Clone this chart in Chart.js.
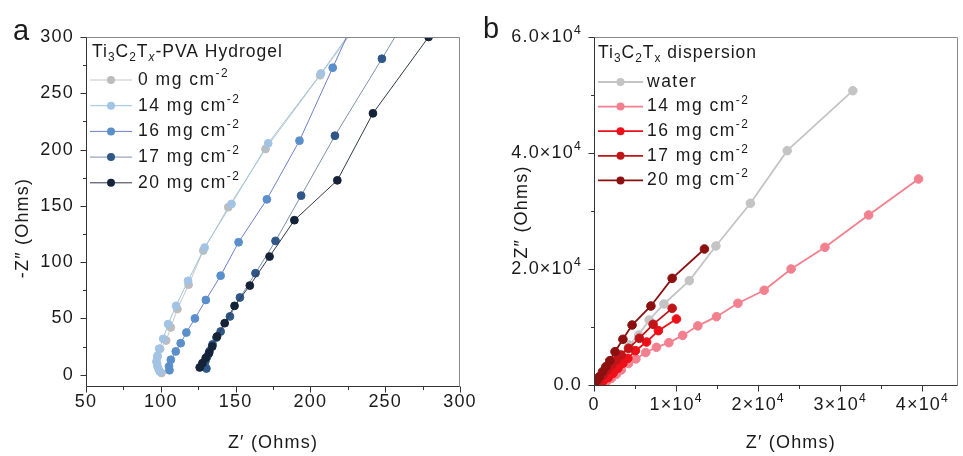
<!DOCTYPE html>
<html>
<head>
<meta charset="utf-8">
<script src="https://cdn.jsdelivr.net/npm/chart.js@4.4.1/dist/chart.umd.min.js"></script>
<style>
  html, body { margin: 0; padding: 0; background: #fff; }
  #wrap { position: relative; width: 963px; height: 456px; overflow: hidden; }
  .box { position: absolute; top: 0; height: 456px; }
  #boxA { left: 0; width: 480px; }
  #boxB { left: 480px; width: 483px; }
</style>
</head>
<body>
<div id="wrap">
  <div class="box" id="boxA"><canvas id="chartA"></canvas></div>
  <div class="box" id="boxB"><canvas id="chartB"></canvas></div>
</div>
<script>
// ── panel a : Ti3C2Tx-PVA hydrogel (Z', -Z'') ─────────────
const gelLabels = ['0 mg cm^{-2}', '14 mg cm^{-2}', '16 mg cm^{-2}', '17 mg cm^{-2}', '20 mg cm^{-2}'];
const gel0  = [[100.5,1.5],[98.5,5],[97.5,10],[97.8,16],[99.5,23],[103.6,30.4],[106.7,42],[111.1,58.3],[118.6,80],[128.4,110.3],[145.1,148.8],[170,200.5],[206.5,266],[231,310]];
const gel14 = [[99.3,2.9],[97.8,7.4],[97.1,11.8],[97.8,16.9],[98.9,23.1],[101.6,31.9],[104.9,45],[110.2,61.2],[118.2,83.4],[129.3,113],[147.3,151.7],[171.8,205.6],[207.1,267.6],[226,303]];
const gel16 = [[105.8,4],[105.5,7.4],[106.7,13.3],[110,20.7],[113.3,28],[117.1,37.5],[122.8,50],[130.1,66.4],[140,88],[152,117.7],[170.9,155.8],[192.7,207.9],[214.9,272.7],[229,314]];
const gel17 = [[130.5,5.5],[129.2,8.5],[129.8,12],[131,16],[132.6,21],[134.6,27],[137.2,33],[140,38.4],[146.2,51.8],[152.9,68.6],[163.3,90.2],[176.7,118.9],[193.8,159.1],[216.4,212.3],[247.8,280.7],[262,312]];
const gel20 = [[126,6.5],[127.8,10.3],[130,14.8],[132.2,19.2],[134.4,25.1],[137.6,34],[142.7,45.8],[149.3,61.2],[159.5,79.2],[172.7,105],[189.3,137.3],[218,172.7],[241.8,232.2],[279,300]];
const gelXMajor = [50, 100, 150, 200, 250, 300];
const gelXMinor = [75, 125, 175, 225, 275];
const gelXLabels = ['50', '100', '150', '200', '250', '300'];
const gelYMajor = [0, 50, 100, 150, 200, 250, 300];
const gelYMinor = [25, 75, 125, 175, 225, 275];
const gelYLabels = ['0', '50', '100', '150', '200', '250', '300'];

// ── panel b : Ti3C2Tx dispersion (Z', Z'') ────────────────
const dispLabels = ['water', '14 mg cm^{-2}', '16 mg cm^{-2}', '17 mg cm^{-2}', '20 mg cm^{-2}'];
const water  = [[250,400],[600,900],[1100,1700],[1700,2700],[2400,3800],[3200,5100],[4300,6900],[5440,8620],[6720,11210],[8520,13970],[11610,17990],[14850,23970],[19050,31330],[23530,40400],[31530,50740]];
const disp14 = [[1000,300],[1520,570],[2120,1150],[2720,1840],[3320,2590],[4200,3700],[5100,4500],[6300,5600],[7600,6500],[9120,7300],[10800,8550],[12650,10200],[14920,11780],[17530,14090],[20730,16330],[24010,20000],[28130,23740],[33450,29310],[39530,35520]];
const disp16 = [[520,290],[1120,690],[1720,1260],[2320,2010],[2920,2880],[3520,3740],[4120,4600],[5040,5920],[6400,7410],[7840,9370],[10040,11380]];
const disp17 = [[120,400],[640,970],[1120,1720],[1600,2590],[2120,3450],[2720,4310],[3320,5170],[4200,6320],[5520,8050],[7200,10460],[9520,13220]];
const disp20 = [[50,170],[240,690],[640,1430],[1040,2290],[1440,3160],[1920,4190],[2560,5750],[3520,7880],[4640,10340],[6930,13620],[9520,18390],[13450,23450]];
const dispXMajor = [0, 10000, 20000, 30000, 40000];
const dispXMinor = [5000, 15000, 25000, 35000];
const dispXLabels = ['0', '1×10^{4}', '2×10^{4}', '3×10^{4}', '4×10^{4}'];
const dispYMajor = [0, 20000, 40000, 60000];
const dispYMinor = [10000, 30000, 50000];
const dispYLabels = ['0.0', '2.0×10^{4}', '4.0×10^{4}', '6.0×10^{4}'];

const FONT = '"Liberation Sans", Arial, sans-serif';
const INK = '#1a1a1a';
const TXT = 18;

// 간단한 위/아래 첨자 텍스트: _{..} 아래, _i{..} 기울임 아래, ^{..} 위
function parseRich(s) {
  const parts = [];
  const re = /(_i|_|\^)\{([^}]*)\}/g;
  let last = 0, m;
  while ((m = re.exec(s))) {
    if (m.index > last) parts.push({ t: s.slice(last, m.index), k: '' });
    parts.push({ t: m[2], k: m[1] });
    last = re.lastIndex;
  }
  if (last < s.length) parts.push({ t: s.slice(last), k: '' });
  return parts;
}

function drawRich(ctx, s, x, y, size, align) {
  const parts = parseRich(s);
  const fontOf = p => (p.k === '_i' ? 'italic ' : '') + (p.k ? size * 0.68 : size) + 'px ' + FONT;
  let w = 0;
  parts.forEach(p => { ctx.font = fontOf(p); p.w = ctx.measureText(p.t).width; w += p.w; });
  let cx = align === 'center' ? x - w / 2 : align === 'right' ? x - w : x;
  ctx.textAlign = 'left';
  ctx.textBaseline = 'middle';
  parts.forEach(p => {
    ctx.font = fontOf(p);
    const dy = p.k === '^' ? -size * 0.36 : p.k ? size * 0.32 : 0;
    ctx.fillText(p.t, cx, y + dy);
    cx += p.w;
  });
  return w;
}

// 축, 눈금, 라벨, 테두리
const axesPlugin = {
  id: 'axes',
  afterDraw(chart, args, o) {
    const { ctx, chartArea: a, scales: { x, y } } = chart;
    ctx.save();
    ctx.letterSpacing = '1.2px';
    ctx.lineWidth = 1;
    const L = Math.round(a.left) + 0.5, R = Math.round(a.right) - 0.5;
    const T = Math.round(a.top) + 0.5, B = Math.round(a.bottom) + 0.5;

    ctx.strokeStyle = '#888';
    ctx.beginPath();
    ctx.moveTo(L, T); ctx.lineTo(R, T); ctx.lineTo(R, B);
    ctx.stroke();

    ctx.strokeStyle = '#333';
    ctx.beginPath();
    ctx.moveTo(L, T); ctx.lineTo(L, B); ctx.lineTo(R, B);
    o.xMajor.forEach(v => { const px = Math.round(x.getPixelForValue(v)) + 0.5; ctx.moveTo(px, B); ctx.lineTo(px, B + 6); });
    o.xMinor.forEach(v => { const px = Math.round(x.getPixelForValue(v)) + 0.5; ctx.moveTo(px, B); ctx.lineTo(px, B + 3.5); });
    o.yMajor.forEach(v => { const py = Math.round(y.getPixelForValue(v)) + 0.5; ctx.moveTo(L, py); ctx.lineTo(L - 6, py); });
    o.yMinor.forEach(v => { const py = Math.round(y.getPixelForValue(v)) + 0.5; ctx.moveTo(L, py); ctx.lineTo(L - 3.5, py); });
    ctx.stroke();

    ctx.fillStyle = INK;
    o.xMajor.forEach((v, i) => drawRich(ctx, o.xLabels[i], x.getPixelForValue(v), a.bottom + o.xLabelDy, TXT, 'center'));
    o.yMajor.forEach((v, i) => drawRich(ctx, o.yLabels[i], a.left - 12, y.getPixelForValue(v), TXT, 'right'));

    drawRich(ctx, o.xTitle, (a.left + a.right) / 2 + o.xTitleDx, a.bottom + o.xTitleDy, TXT, 'center');
    ctx.save();
    ctx.translate(o.yTitleX, o.yTitleY);
    ctx.rotate(-Math.PI / 2);
    drawRich(ctx, o.yTitle, 0, 0, TXT, 'center');
    ctx.restore();

    ctx.letterSpacing = '0px';
    ctx.font = '29px ' + FONT;
    ctx.textAlign = 'left';
    ctx.textBaseline = 'alphabetic';
    ctx.fillText(o.letter, o.letterX, o.letterY);
    ctx.restore();
  }
};

// 범례 (제목 + 선/마커 샘플)
const legendPlugin = {
  id: 'richLegend',
  afterDraw(chart, args, o) {
    const { ctx, chartArea: a } = chart;
    ctx.save();
    ctx.letterSpacing = '1px';
    ctx.fillStyle = INK;
    drawRich(ctx, o.title, a.left + o.dx, a.top + o.titleDy, 17.5, 'left');
    ctx.letterSpacing = '1.5px';
    chart.data.datasets.forEach((d, i) => {
      const yy = a.top + o.dy + i * o.step;
      ctx.strokeStyle = d.borderColor;
      ctx.lineWidth = d.borderWidth;
      ctx.beginPath();
      ctx.moveTo(a.left + o.lineFrom, yy);
      ctx.lineTo(a.left + o.lineTo, yy);
      ctx.stroke();
      ctx.fillStyle = d.pointBackgroundColor;
      ctx.beginPath();
      ctx.arc(a.left + (o.lineFrom + o.lineTo) / 2, yy, 4, 0, Math.PI * 2);
      ctx.fill();
      ctx.fillStyle = INK;
      drawRich(ctx, o.labels[i], a.left + o.textX, yy, 17.5, 'left');
    });
    ctx.restore();
  }
};

function series(points, label, line, dot, width, radius, i) {
  return {
    label,
    data: points.map(p => ({ x: p[0], y: p[1] })),
    showLine: true,
    borderColor: line,
    borderWidth: width,
    pointBackgroundColor: dot,
    pointBorderColor: dot,
    pointBorderWidth: 1,
    pointRadius: radius,
    order: -i,
  };
}

function makeChart(id, datasets, pad, xr, yr, axes, legend) {
  return new Chart(document.getElementById(id), {
    type: 'scatter',
    data: { datasets },
    options: {
      responsive: true,
      maintainAspectRatio: false,
      animation: false,
      layout: { padding: pad },
      scales: {
        x: { type: 'linear', display: false, min: xr[0], max: xr[1] },
        y: { type: 'linear', display: false, min: yr[0], max: yr[1] },
      },
      plugins: { legend: { display: false }, tooltip: { enabled: false }, axes, richLegend: legend },
    },
    plugins: [axesPlugin, legendPlugin],
  });
}

makeChart('chartA', [
  series(gel0,  gelLabels[0], '#c6c6c6', '#bdbdbd', 1, 3.9, 0),
  series(gel14, gelLabels[1], '#9cc6e0', '#a3c3e4', 1, 3.9, 1),
  series(gel16, gelLabels[2], '#6a80cc', '#5a8fcb', 1, 3.9, 2),
  series(gel17, gelLabels[3], '#7d90ad', '#2f5788', 1, 3.9, 3),
  series(gel20, gelLabels[4], '#33384a', '#152338', 1, 3.9, 4),
], { left: 86, right: 20, top: 37, bottom: 70 }, [50, 300], [-10, 300], {
  xMajor: gelXMajor, xMinor: gelXMinor, xLabels: gelXLabels,
  yMajor: gelYMajor, yMinor: gelYMinor, yLabels: gelYLabels,
  xLabelDy: 16, xTitle: 'Z′ (Ohms)', xTitleDx: 0, xTitleDy: 57,
  yTitle: '-Z″ (Ohms)', yTitleX: 23, yTitleY: 228,
  letter: 'a', letterX: 13, letterY: 40,
}, {
  title: 'Ti_{3}C_{2}T_i{x}-PVA Hydrogel', labels: gelLabels,
  dx: 6, titleDy: 15, dy: 43, step: 25.7, lineFrom: 4, lineTo: 46, textX: 52,
});

makeChart('chartB', [
  series(water,  dispLabels[0], '#c4c4c4', '#c4c4c4', 1.8, 4.3, 0),
  series(disp14, dispLabels[1], '#f3808e', '#f3808e', 1.8, 4.3, 1),
  series(disp16, dispLabels[2], '#ee1018', '#ee1018', 1.8, 4.3, 2),
  series(disp17, dispLabels[3], '#c01418', '#c01418', 1.8, 4.3, 3),
  series(disp20, dispLabels[4], '#8c1010', '#8c1010', 1.8, 4.3, 4),
], { left: 114, right: 0, top: 37, bottom: 71 }, [0, 44300], [0, 60000], {
  xMajor: dispXMajor, xMinor: dispXMinor, xLabels: dispXLabels,
  yMajor: dispYMajor, yMinor: dispYMinor, yLabels: dispYLabels,
  xLabelDy: 20, xTitle: 'Z′ (Ohms)', xTitleDx: 15, xTitleDy: 58,
  yTitle: 'Z″ (Ohms)', yTitleX: 42, yTitleY: 212,
  letter: 'b', letterX: 3, letterY: 38,
}, {
  title: 'Ti_{3}C_{2}T_{x} dispersion', labels: dispLabels,
  dx: 4, titleDy: 16, dy: 45, step: 24.6, lineFrom: 4, lineTo: 49, textX: 53,
});
</script>
</body>
</html>
